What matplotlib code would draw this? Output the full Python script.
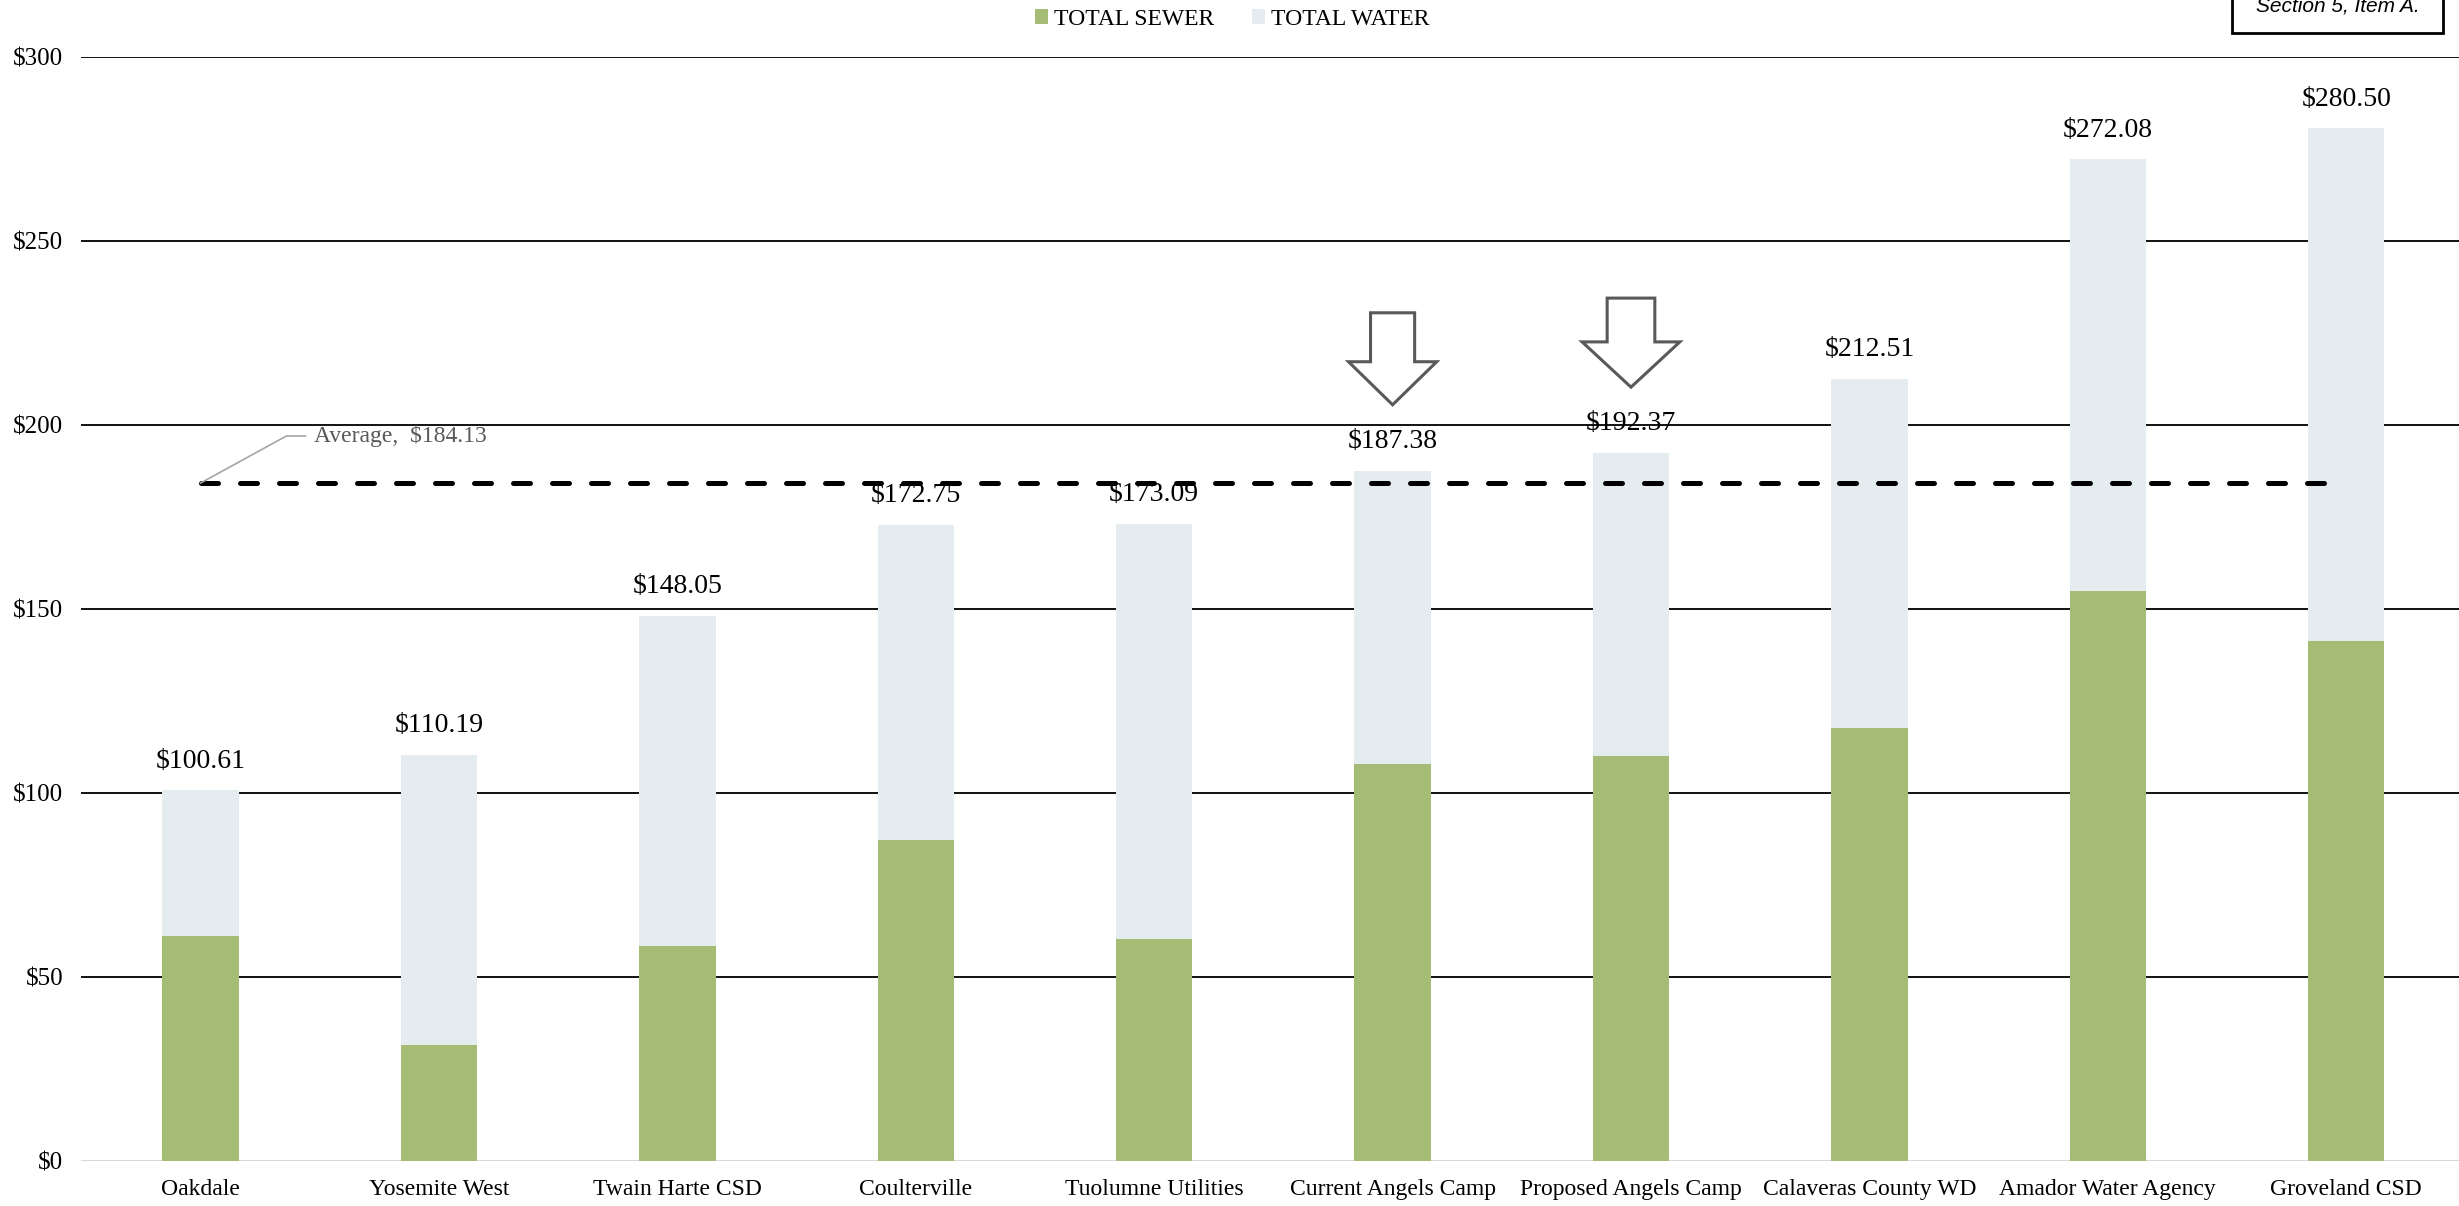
import numpy as np
import matplotlib
matplotlib.use("Agg")
import matplotlib.pyplot as plt
from matplotlib.patches import FancyArrow, Rectangle, Patch

# ---- data ----
agencies = ["Oakdale", "Yosemite West", "Twain Harte CSD", "Coulterville",
            "Tuolumne Utilities", "Current Angels Camp", "Proposed Angels Camp",
            "Calaveras County WD", "Amador Water Agency", "Groveland CSD"]
totals = [100.61, 110.19, 148.05, 172.75, 173.09, 187.38, 192.37,
          212.51, 272.08, 280.50]
sewer = [61.0, 31.5, 58.4, 87.0, 60.1, 107.8, 110.0, 117.6, 154.7, 141.1]
water = [t - s for t, s in zip(totals, sewer)]
average = 184.13          # as labelled (excludes the proposed rate)
highlight = [5, 6]        # bars with the hollow arrows

yticks = [0, 50, 100, 150, 200, 250, 300]

SEWER_C = "#A5BC74"
WATER_C = "#E4ECEF"
GREY = "#595959"

plt.rcParams["font.family"] = ["Liberation Serif", "DejaVu Serif"]

fig = plt.figure(figsize=(24.59, 12.06), dpi=100)
ax = fig.add_axes([0.0331, 0.0376, 0.9695, 0.9155])

x = np.arange(len(agencies))
ax.bar(x, sewer, width=0.32, color=SEWER_C, zorder=2)
ax.bar(x, water, width=0.32, bottom=sewer, color=WATER_C, zorder=2)

# horizontal gridlines (black) and light grey baseline
for yt in yticks[1:]:
    ax.axhline(yt, color="#111111", lw=1.4, zorder=0.5)
ax.axhline(0, color="#D9D9D9", lw=1.5, zorder=0.5)

ax.set_xlim(-0.5, len(agencies) - 0.5)
ax.set_ylim(0, 300)
ax.set_yticks(yticks)
ax.set_yticklabels([f"${v}" for v in yticks], fontsize=18)
ax.set_xticks(x)
ax.set_xticklabels(agencies, fontsize=17)
ax.tick_params(axis="both", length=0)
ax.tick_params(axis="y", pad=13)
ax.tick_params(axis="x", pad=13)
for sp in ax.spines.values():
    sp.set_visible(False)

# total labels
for xi, t in zip(x, totals):
    ax.annotate(f"${t:.2f}", (xi, t), xytext=(0, 12), textcoords="offset points",
                ha="center", va="bottom", fontsize=20, zorder=5)

# average line + callout
ax.plot([x[0], x[-1]], [average, average], color="black", lw=3.6,
        dashes=(3.4, 4.4), dash_capstyle="round", zorder=3)
ax.plot([x[0], 0.36, 0.44], [average, 196.9, 196.9], color="#A6A6A6", lw=1.2,
        zorder=3)
ax.text(0.475, 196.9, f"Average,  ${average:.2f}", color=GREY, fontsize=17,
        ha="left", va="center")

# hollow down-arrows above the Angels Camp bars
arrow_gap = [18.0, 17.8]
arrow_len = [25.0, 24.2]
arrow_hl = [11.7, 12.3]
arrow_w = [0.185, 0.20]
arrow_hw = [0.37, 0.41]
for k, i in enumerate(highlight):
    tip = totals[i] + arrow_gap[k]
    ax.add_patch(FancyArrow(x[i], tip + arrow_len[k], 0, -arrow_len[k],
                            width=arrow_w[k], head_width=arrow_hw[k],
                            head_length=arrow_hl[k], length_includes_head=True,
                            facecolor="white", edgecolor=GREY, lw=2.2, zorder=4))

# legend at the top
handles = [Patch(facecolor=SEWER_C), Patch(facecolor=WATER_C)]
fig.legend(handles, ["TOTAL SEWER", "TOTAL WATER"], loc="center",
           bbox_to_anchor=(0.501, 0.984), ncol=2, frameon=False, fontsize=17,
           handlelength=0.55, handleheight=0.55, handletextpad=0.25,
           columnspacing=1.6)

# clipped page tag in the top-right corner
fig.patches.append(Rectangle((0.9077, 0.9726), 0.0858, 0.08, transform=fig.transFigure,
                             facecolor="white", edgecolor="black", lw=2.0))
fig.text(0.9508, 0.9905, "Section 5, Item A.", ha="center", va="baseline",
         fontsize=15, style="italic", family=["Liberation Sans", "DejaVu Sans"])

fig.savefig("out.png", dpi=100)
